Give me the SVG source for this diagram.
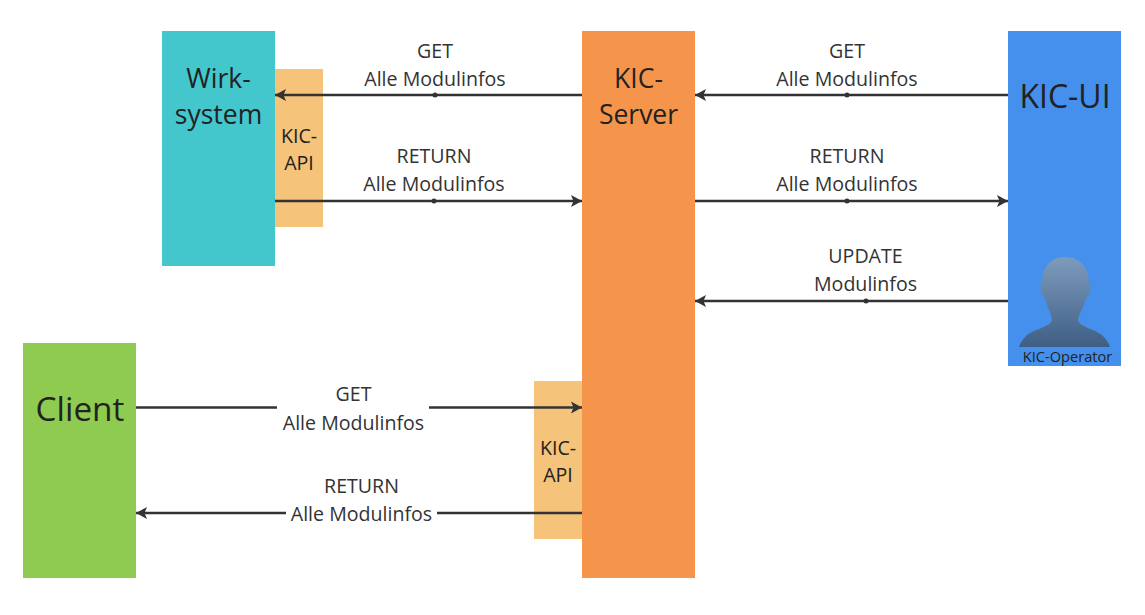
<svg xmlns="http://www.w3.org/2000/svg" width="1145" height="615" viewBox="0 0 1145 615">
<style>
text{font-family:"Open Sans","Noto Sans",sans-serif;fill:#222;text-anchor:middle}
.lb{font-size:19.6px;fill:#333}
.api{font-size:19.6px}
.big{font-size:26.500px}
.xl1{font-size:32px}
.xl2{font-size:33.300px}
.c{stroke:#333;stroke-width:2.6;fill:none}
</style>
<defs>
<marker id="ah" markerUnits="userSpaceOnUse" markerWidth="12" markerHeight="14" refX="11" refY="7" orient="auto-start-reverse"><path d="M0 1 L11 7 L0 13 L2.500 7 Z" fill="#333"/></marker>
<linearGradient id="person" x1="0" y1="0" x2="0" y2="1"><stop offset="0" stop-color="#7d9cbd"/><stop offset="1" stop-color="#3f5e84"/></linearGradient>
</defs>
<rect width="1145" height="615" fill="#fff"/>
<g id="wirksystem"><rect x="162" y="31" width="113" height="235" fill="#43c7cd"/><text class="big" x="218.500" y="88">Wirk-</text><text class="big" x="218.500" y="124">system</text></g>
<g id="kic-api-top"><rect x="275" y="69" width="48" height="158" fill="#f5c379"/><text class="api" x="299" y="142.500">KIC-</text><text class="api" x="299" y="169.500">API</text></g>
<g id="kic-server"><rect x="582" y="31" width="113" height="547" fill="#f5954b"/><text class="big" x="638.500" y="88">KIC-</text><text class="big" x="638.500" y="124">Server</text></g>
<g id="kic-ui"><rect x="1008" y="31" width="113" height="335" fill="#4490ec"/><text class="xl1" x="1065" y="107.500">KIC-UI</text></g>
<g id="kic-operator">
<path d="M1065 257 C1050 257 1042 268 1042 283 C1039.500 284 1040 295 1045 298 C1047 307 1051 313 1052 320 C1050 327 1035 329 1027 335 C1023 339 1020 343 1019 347 L1110 347 C1109 343 1106 339 1102 335 C1094 329 1080 327 1078 320 C1079 313 1084 307 1086 298 C1091 295 1091.500 284 1089 283 C1089 268 1080 257 1065 257 Z" fill="url(#person)"/>
<text x="1067.500" y="361.500" font-size="14.6">KIC-Operator</text></g>
<g id="client"><rect x="23" y="343" width="113" height="235" fill="#8ecb50"/><text class="xl2" x="80" y="421">Client</text></g>
<g id="kic-api-bottom"><rect x="534" y="381" width="48" height="158" fill="#f5c379"/><text class="api" x="558" y="454.500">KIC-</text><text class="api" x="558" y="481.500">API</text></g>
<g id="connectors">
<path class="c" d="M582 95H275" marker-end="url(#ah)"/><circle cx="435" cy="95" r="2.5" fill="#333"/>
<path class="c" d="M275 201H582" marker-end="url(#ah)"/><circle cx="434" cy="201" r="2.5" fill="#333"/>
<path class="c" d="M1008 95H695" marker-end="url(#ah)"/><circle cx="847" cy="95" r="2.5" fill="#333"/>
<path class="c" d="M695 201H1008" marker-end="url(#ah)"/><circle cx="847" cy="201" r="2.5" fill="#333"/>
<path class="c" d="M1008 301H695" marker-end="url(#ah)"/><circle cx="866" cy="301" r="2.5" fill="#333"/>
<path class="c" d="M136 407.500H277"/><path class="c" d="M429 407.500H582" marker-end="url(#ah)"/>
<path class="c" d="M582 513H437"/><path class="c" d="M286 513H136" marker-end="url(#ah)"/>
<text class="lb" x="435" y="57.500">GET</text><text class="lb" x="435" y="85.500">Alle Modulinfos</text>
<text class="lb" x="434" y="162.500">RETURN</text><text class="lb" x="434" y="190.500">Alle Modulinfos</text>
<text class="lb" x="847" y="57.500">GET</text><text class="lb" x="847" y="85.500">Alle Modulinfos</text>
<text class="lb" x="847" y="162.500">RETURN</text><text class="lb" x="847" y="190.500">Alle Modulinfos</text>
<text class="lb" x="865.500" y="262.500">UPDATE</text><text class="lb" x="865.500" y="291">Modulinfos</text>
<text class="lb" x="353.500" y="401">GET</text><text class="lb" x="353.500" y="429.500">Alle Modulinfos</text>
<text class="lb" x="361.500" y="492.500">RETURN</text><text class="lb" x="361.500" y="520.500">Alle Modulinfos</text>
</g>
</svg>
